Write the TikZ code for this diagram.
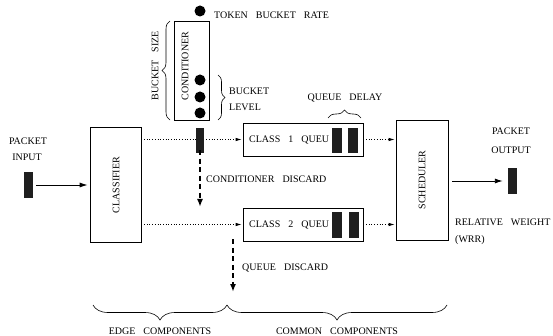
\documentclass[tikz,border=0pt]{standalone}
\usepackage{fontspec}
\setmainfont{Liberation Serif}
\usetikzlibrary{arrows.meta,decorations.pathreplacing}
\newcommand\lblfont{\fontsize{10}{12}\selectfont\spaceskip=8pt plus 1pt\relax}
\begin{document}
\begin{tikzpicture}[x=1pt,y=-1pt,
  lbl/.style={font=\lblfont, inner sep=0pt},
  box/.style={draw, line width=0.7pt, inner sep=0pt},
  pkt/.style={fill=black!88, draw=none, inner sep=0pt},
  dotn/.style={circle, fill=black, draw=none, inner sep=0pt, minimum size=11pt},
  flow/.style={dotted, line width=0.7pt, -{Latex[length=6pt,width=3.5pt]}},
  arr/.style={line width=0.9pt, -{Latex[length=8pt,width=5pt]}},
  discard/.style={line width=1.6pt, dash pattern=on 5pt off 3.5pt, -{Latex[length=8pt,width=6pt]}},
  brc/.style={decorate, line width=0.6pt}
]
\useasboundingbox (0,0) rectangle (553,336);

% boxes
\node[box, minimum width=35pt, minimum height=99pt] (cond) at (191.5,70.5) {};
\node[box, minimum width=51pt, minimum height=115pt] (clsf) at (115.5,184.5) {};
\node[box, minimum width=120pt, minimum height=33pt] (q1) at (303,139.5) {};
\node[box, minimum width=120pt, minimum height=33pt] (q2) at (303,224.5) {};
\node[box, minimum width=52pt, minimum height=120pt] (sched) at (422,180) {};

% box texts
\node[lbl, rotate=90] (condt) at (185,66) {CONDITIONER};
\node[lbl, rotate=90] (clsft) at (116,185) {CLASSIFIER};
\node[lbl, rotate=90] (schedt) at (422,180) {SCHEDULER};
\node[lbl, anchor=west] (q1t) at (249,140) {CLASS 1 QUEU};
\node[lbl, anchor=west] (q2t) at (249,225) {CLASS 2 QUEU};

% packets
\node[pkt, minimum width=9pt, minimum height=26pt] (inpkt) at (28.5,185) {};
\node[pkt, minimum width=9pt, minimum height=26pt] (outpkt) at (512.5,181) {};

% flows
\draw[arr] ([xshift=3pt]inpkt.east) -- ([xshift=-2pt]clsf.west |- inpkt.east);
\draw[flow] (clsf.east |- q1.west) -- ([xshift=-1pt]q1.west);
\draw[flow] (q1.east) -- ([xshift=-1pt]sched.west |- q1.east);
\draw[flow] (clsf.east |- q2.west) -- ([xshift=-1pt]q2.west);
\draw[flow] (q2.east) -- ([xshift=-1pt]sched.west |- q2.east);
\draw[arr] ([xshift=4pt]sched.east |- outpkt.west) -- ([xshift=-5pt]outpkt.west);

% conditioner packet and queue bars
\node[pkt, minimum width=8pt, minimum height=25pt] (cpkt) at (200,140.5) {};
\node[pkt, minimum width=10pt, minimum height=25pt] (b11) at (337,140.5) {};
\node[pkt, minimum width=10pt, minimum height=25pt] (b12) at (353,140.5) {};
\node[pkt, minimum width=10pt, minimum height=26pt] (b21) at (337,225) {};
\node[pkt, minimum width=10pt, minimum height=26pt] (b22) at (353.5,225) {};

% dots
\node[dotn] (tok) at (200,11) {};
\node[dotn] (d1) at (200,80) {};
\node[dotn] (d2) at (200,97) {};
\node[dotn] (d3) at (200,113) {};

% discards
\coordinate (cdend) at (200,207);
\coordinate (qdend) at (233,292);
\draw[discard] ([yshift=3pt]cpkt.south) -- (cdend);
\draw[discard] ([yshift=2pt]q2.south -| qdend) -- (qdend);

% braces
\draw[brc, decoration={brace, amplitude=8pt}] (170,120) -- (170,21);
\draw[brc, decoration={brace, amplitude=7pt}] (218,75) -- (218,120);
\draw[brc, decoration={brace, amplitude=8pt}] (328,118) -- (361,118);
\draw[brc, decoration={brace, amplitude=15pt}] (227,305) -- (93,305);
\draw[brc, decoration={brace, amplitude=15pt}] (447,305) -- (227,305);

% labels
\node[lbl, anchor=west] (tokt) at (214,15) {TOKEN BUCKET RATE};
\node[lbl, rotate=90] (bsz) at (155,66) {BUCKET SIZE};
\node[lbl, anchor=west] (blv1) at (229,91) {BUCKET};
\node[lbl, anchor=west] (blv2) at (229,107) {LEVEL};
\node[lbl] (pin1) at (28,141) {PACKET};
\node[lbl] (pin2) at (27,157) {INPUT};
\node[lbl, anchor=west] (cdt) at (206,179) {CONDITIONER DISCARD};
\node[lbl] (qdl) at (345,98) {QUEUE DELAY};
\node[lbl] (pout1) at (511,131) {PACKET};
\node[lbl] (pout2) at (511,150) {OUTPUT};
\node[lbl, anchor=west] (rw1) at (455,222) {RELATIVE WEIGHT};
\node[lbl, anchor=west] (rw2) at (455,240) {(WRR)};
\node[lbl, anchor=west] (qdt) at (242,268) {QUEUE DISCARD};
\node[lbl] (edge) at (160,331) {EDGE COMPONENTS};
\node[lbl] (common) at (337,331) {COMMON COMPONENTS};
\end{tikzpicture}
\end{document}
